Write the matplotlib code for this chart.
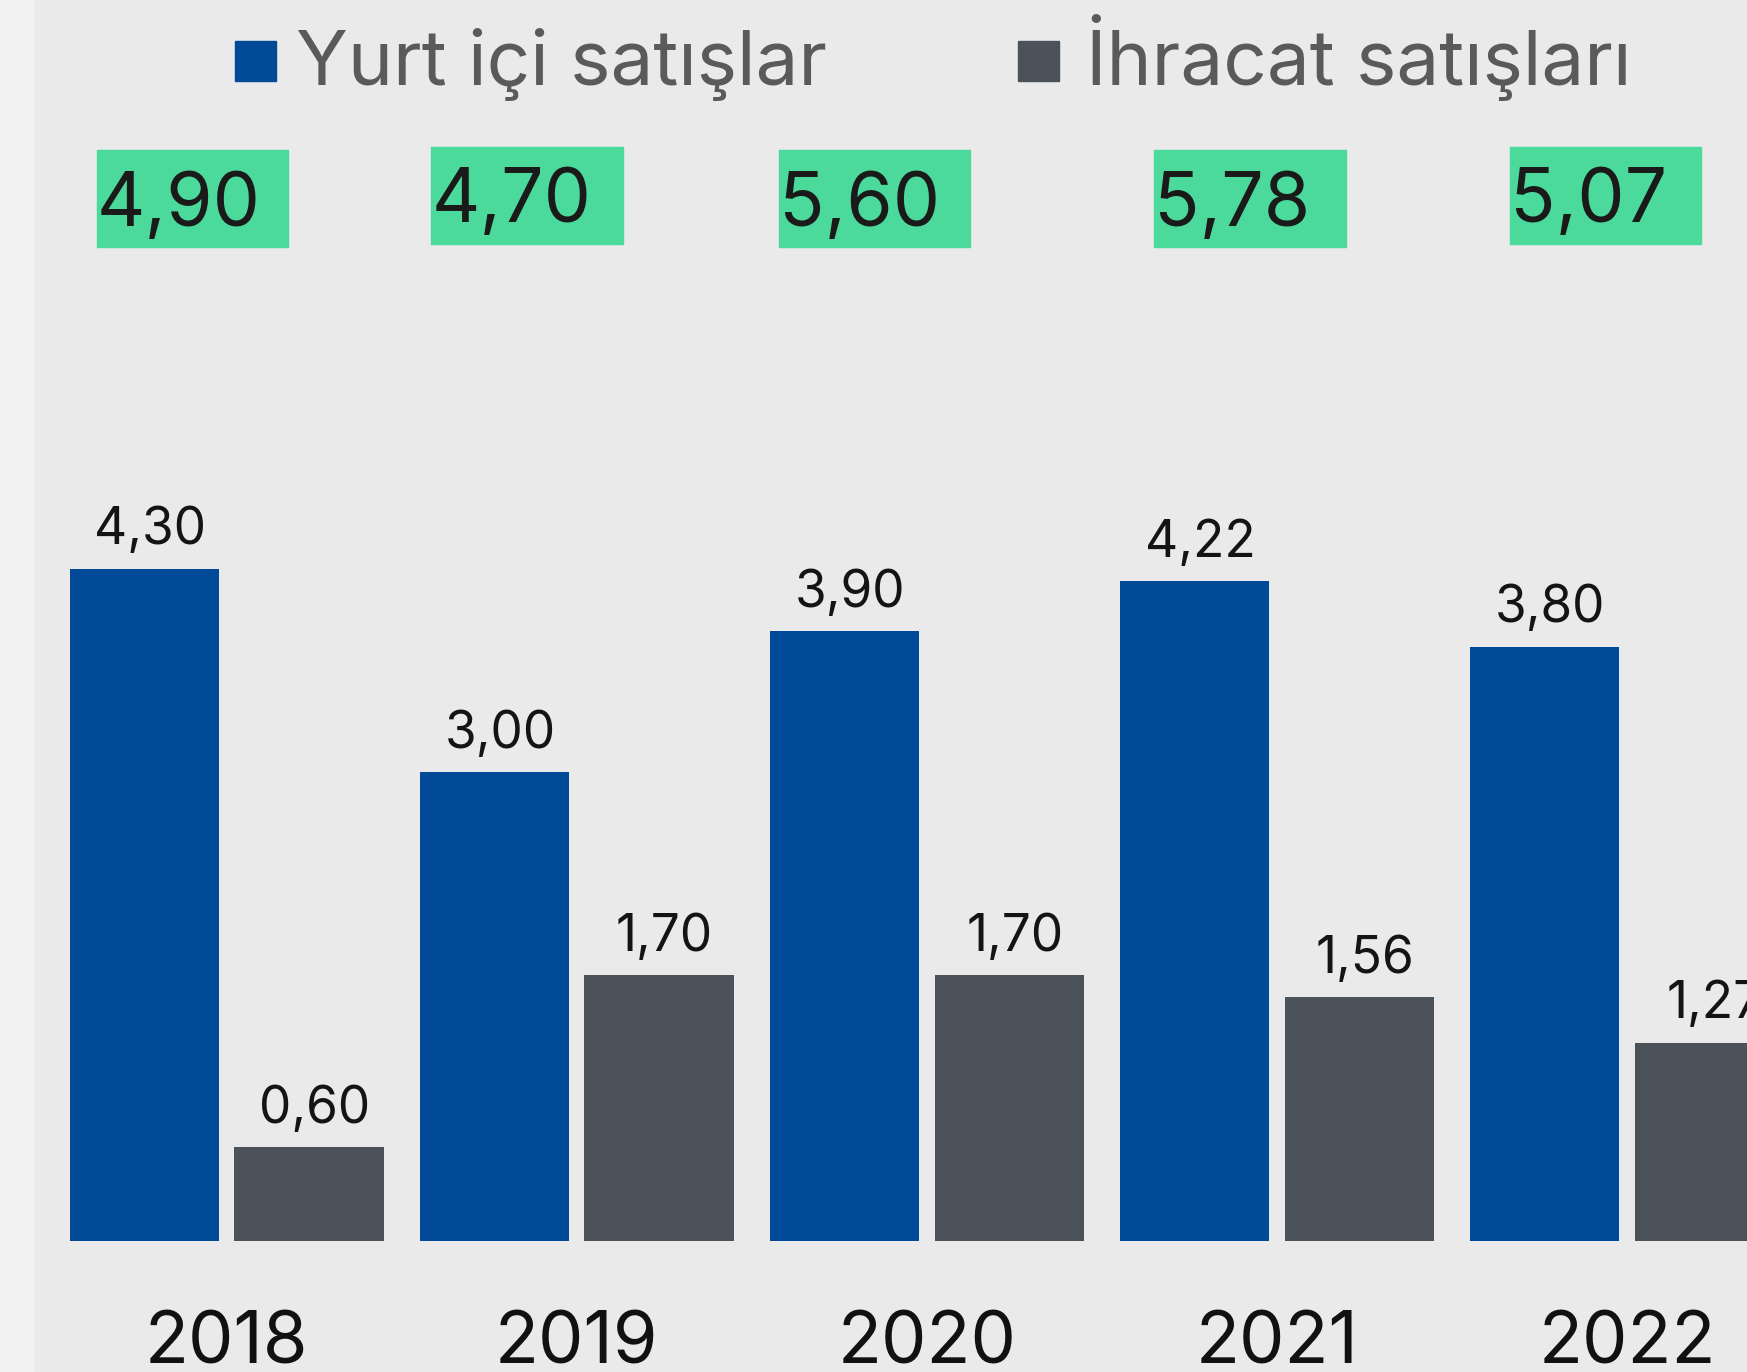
import matplotlib
matplotlib.use('Agg')
import matplotlib.pyplot as plt
import matplotlib.transforms as mtransforms
from matplotlib.patches import Rectangle
import numpy as np

# data (milyon ton)
years = ['2018', '2019', '2020', '2021', '2022']
domestic = [4.30, 3.00, 3.90, 4.22, 3.80]
exports = [0.60, 1.70, 1.70, 1.56, 1.27]
totals = [4.90, 4.70, 5.60, 5.78, 5.07]
series_names = ['Yurt içi satışlar', 'İhracat satışları']

# style
BLUE = '#004a97'
GRAY = '#4b525a'
GREEN = '#4bda9b'
BG = '#eaeaea'
W, H, DPI = 1747, 1372, 100

plt.rcParams['font.family'] = ['Inter', 'DejaVu Sans']


def fmt(v):
    return '{:.2f}'.format(v).replace('.', ',')


fig = plt.figure(figsize=(W / DPI, H / DPI), dpi=DPI, facecolor=BG)
# lighter strip on the left edge
fig.add_artist(Rectangle((0, 0), 33 / W, 1, transform=fig.transFigure,
                         color='#f2f2f2', zorder=0))

ax = fig.add_axes([0, 0, 1, 1])
ax.set_facecolor('none')
ax.axis('off')

x = np.arange(len(years))
off, bw = 0.235, 0.4265
ax.bar(x - off, domestic, bw, color=BLUE)
ax.bar(x + off, exports, bw, color=GRAY)
ax.set_xlim(-0.6475, 4.3425)
ax.set_ylim(-0.836, 7.936)

for xi, d, e in zip(x, domestic, exports):
    for xx, v in ((xi - off, d), (xi + off, e)):
        ax.annotate(fmt(v), (xx, v), xytext=(4, 17.6), textcoords='offset points',
                    ha='center', va='baseline', fontsize=37, color='#141414')

# year labels along the bottom
trans = mtransforms.blended_transform_factory(ax.transData, ax.transAxes)
for xi, yr in zip(x, years):
    ax.text(xi, 9 / H, yr, transform=trans, ha='center', va='baseline',
            fontsize=52, color='#111111')

# green total boxes (hand placed in the original)
box_dx = [-0.371, -0.416, -0.423, -0.350, -0.335]
box_lift = [0, 0.02, 0, 0, 0.02]
box_w, box_h, box_y = 0.547, 0.62, 6.355
for xi, t, dx, lift in zip(x, totals, box_dx, box_lift):
    y0 = box_y + lift
    ax.add_patch(Rectangle((xi + dx, y0), box_w, box_h, color=GREEN, zorder=3))
    ax.text(xi + dx, y0 + 0.139, fmt(t), ha='left', va='baseline',
            fontsize=54, color='#1a1a1a', zorder=4)

# legend
legend_items = [(series_names[0], BLUE, 235, 296), (series_names[1], GRAY, 1018, 1086)]
for name, col, sq_x, tx_x in legend_items:
    fig.add_artist(Rectangle((sq_x / W, 1 - 81 / H), 41 / W, 40 / H,
                             transform=fig.transFigure, color=col))
    fig.text(tx_x / W, 1 - 85 / H, name, ha='left', va='baseline',
             fontsize=55, color='#5a5a5a', fontweight='normal')

fig.savefig('out.png', dpi=DPI, facecolor=BG)
